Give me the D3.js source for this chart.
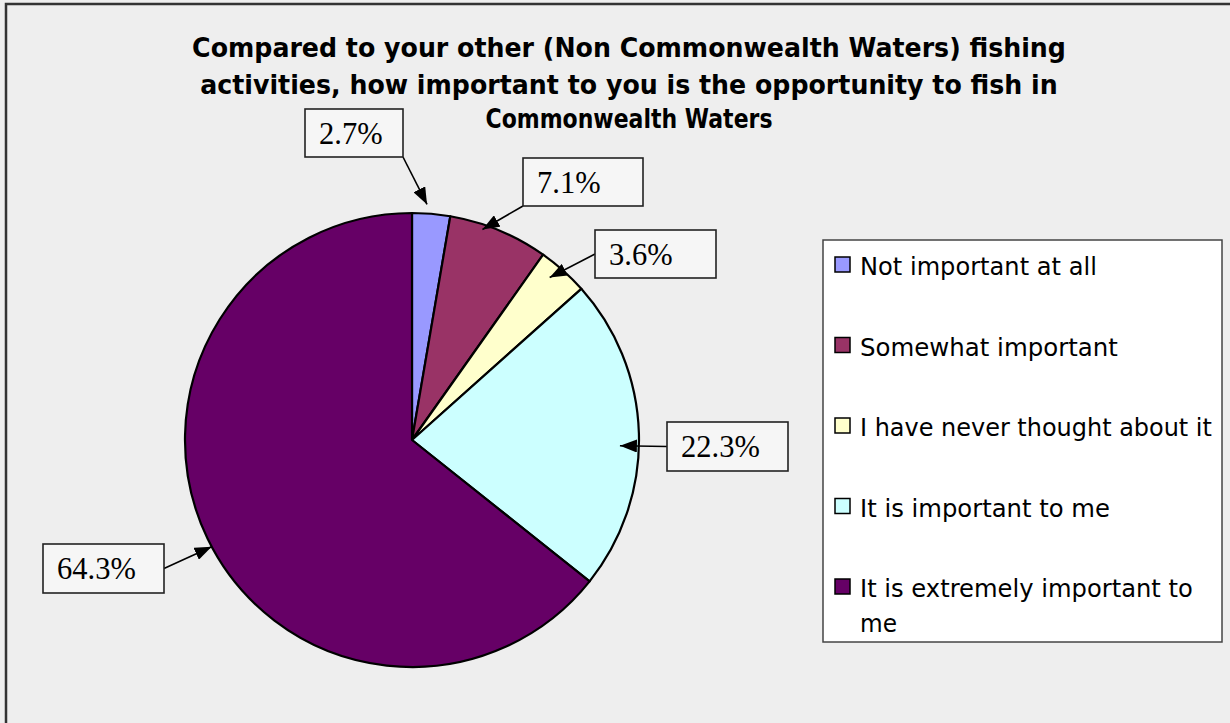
<!DOCTYPE html>
<html>
<head>
<meta charset="utf-8">
<script src="https://cdn.jsdelivr.net/npm/d3@7"></script>
<style>
  html, body { margin: 0; padding: 0; background: #eeeeee; }
  svg { display: block; }
</style>
</head>
<body>
<svg id="chart" width="1230" height="723"></svg>
<script>
// ---- data ----
const categories = [
  "Not important at all",
  "Somewhat important",
  "I have never thought about it",
  "It is important to me",
  "It is extremely important to me"
];
const values = [2.7, 7.1, 3.6, 22.3, 64.3];
const valueLabels = ["2.7%", "7.1%", "3.6%", "22.3%", "64.3%"];
const colors = ["#9999FF", "#993366", "#FFFFCC", "#CCFFFF", "#660066"];
const titleLines = [
  "Compared to your other (Non Commonwealth Waters) fishing",
  "activities, how important to you is the opportunity to fish in",
  "Commonwealth Waters"
];
const legendLines = [
  ["Not important at all"],
  ["Somewhat important"],
  ["I have never thought about it"],
  ["It is important to me"],
  ["It is extremely important to", "me"]
];

// ---- layout ----
const W = 1230, H = 723;
const svg = d3.select("#chart");
const cx = 412, cy = 440, R = 227;

svg.append("rect").attr("x", 0).attr("y", 0).attr("width", W).attr("height", H).attr("fill", "#eeeeee");
svg.append("rect").attr("x", 6).attr("y", 4).attr("width", W + 20).attr("height", H + 20)
  .attr("fill", "#eeeeee").attr("stroke", "#333").attr("stroke-width", 2.5);

// horizontally fit a text to a target width via a scale transform
function fitText(sel, x, y, target, anchor) {
  const node = sel.node();
  const natural = node.getComputedTextLength();
  const k = natural > 0 ? target / natural : 1;
  sel.attr("x", 0).attr("y", 0)
    .attr("text-anchor", anchor || "start")
    .attr("transform", `translate(${x},${y}) scale(${k},1)`);
}

// title
const titleWidths = [874, 858, 287];
const titleBase = [57, 94, 128];
const gTitle = svg.append("g");
titleLines.forEach((line, i) => {
  const t = gTitle.append("text")
    .attr("font-family", "DejaVu Sans, Verdana, sans-serif")
    .attr("font-weight", "bold").attr("font-size", 26)
    .attr("fill", "#000")
    .text(line);
  fitText(t, 629, titleBase[i], titleWidths[i], "middle");
});

// pie
const pie = d3.pie().sort(null).value(d => d)(values);
const arc = d3.arc().innerRadius(0).outerRadius(R);
const gPie = svg.append("g").attr("transform", `translate(${cx},${cy})`);
gPie.selectAll("path").data(pie).join("path")
  .attr("d", arc)
  .attr("fill", (d, i) => colors[i])
  .attr("stroke", "#000").attr("stroke-width", 2.2)
  .attr("stroke-linejoin", "round");

// arrow marker
svg.append("defs").append("marker")
  .attr("id", "arrow").attr("markerUnits", "userSpaceOnUse")
  .attr("viewBox", "0 0 17 13").attr("markerWidth", 17).attr("markerHeight", 13)
  .attr("refX", 17).attr("refY", 6.5).attr("orient", "auto")
  .append("path").attr("d", "M0,0 L17,6.5 L0,13 Z").attr("fill", "#000");

// data label boxes (layout) and leader lines computed from slice angles
const boxes = [
  { x: 305, y: 109, w: 98,  h: 48, anchor: "br", tipR: 236, nudge: -1.2 },
  { x: 523, y: 158, w: 120, h: 48, anchor: "bl", tipR: 222, nudge: -4 },
  { x: 595, y: 230, w: 121, h: 48, anchor: "l",  tipR: 213, nudge: -1.5 },
  { x: 667, y: 422, w: 121, h: 49, anchor: "l",  tipR: 208, nudge: 3.2 },
  { x: 43,  y: 544, w: 121, h: 49, anchor: "r",  tipR: 227, nudge: -2.3 }
];
const gLab = svg.append("g");
pie.forEach((p, i) => {
  const b = boxes[i];
  const mid = (p.startAngle + p.endAngle) / 2 + b.nudge * Math.PI / 180;
  const tx = cx + b.tipR * Math.sin(mid);
  const ty = cy - b.tipR * Math.cos(mid);
  let sx, sy;
  if (b.anchor === "br") { sx = b.x + b.w; sy = b.y + b.h; }
  else if (b.anchor === "bl") { sx = b.x; sy = b.y + b.h; }
  else if (b.anchor === "l") { sx = b.x; sy = b.y + b.h / 2; }
  else { sx = b.x + b.w; sy = b.y + b.h / 2; }
  gLab.append("line")
    .attr("x1", sx).attr("y1", sy).attr("x2", tx).attr("y2", ty)
    .attr("stroke", "#000").attr("stroke-width", 1.6)
    .attr("marker-end", "url(#arrow)");
  gLab.append("rect")
    .attr("x", b.x).attr("y", b.y).attr("width", b.w).attr("height", b.h)
    .attr("fill", "#f6f6f6").attr("stroke", "#222").attr("stroke-width", 1.6);
  gLab.append("text")
    .attr("x", b.x + 14).attr("y", b.y + b.h / 2 + 10.5)
    .attr("font-family", "Liberation Serif, Times New Roman, serif")
    .attr("font-size", 30.5).attr("fill", "#000")
    .text(valueLabels[i]);
});

// legend
const lg = svg.append("g");
lg.append("rect").attr("x", 823).attr("y", 240).attr("width", 399).attr("height", 402)
  .attr("fill", "#ffffff").attr("stroke", "#444").attr("stroke-width", 1.5);
const legendBase = [275, 355.5, 436, 516.5, 597];
const legendWidths = [[237], [258], [352], [250], [333, 37]];
categories.forEach((c, i) => {
  lg.append("rect")
    .attr("x", 835).attr("y", legendBase[i] - 18).attr("width", 15).attr("height", 15)
    .attr("fill", colors[i]).attr("stroke", "#000").attr("stroke-width", 1.5);
  legendLines[i].forEach((line, j) => {
    const t = lg.append("text")
      .attr("font-family", "DejaVu Sans, Verdana, sans-serif")
      .attr("font-size", 25.5).attr("fill", "#000")
      .text(line);
    fitText(t, 860, legendBase[i] + j * 35, legendWidths[i][j], "start");
  });
});
</script>
</body>
</html>
